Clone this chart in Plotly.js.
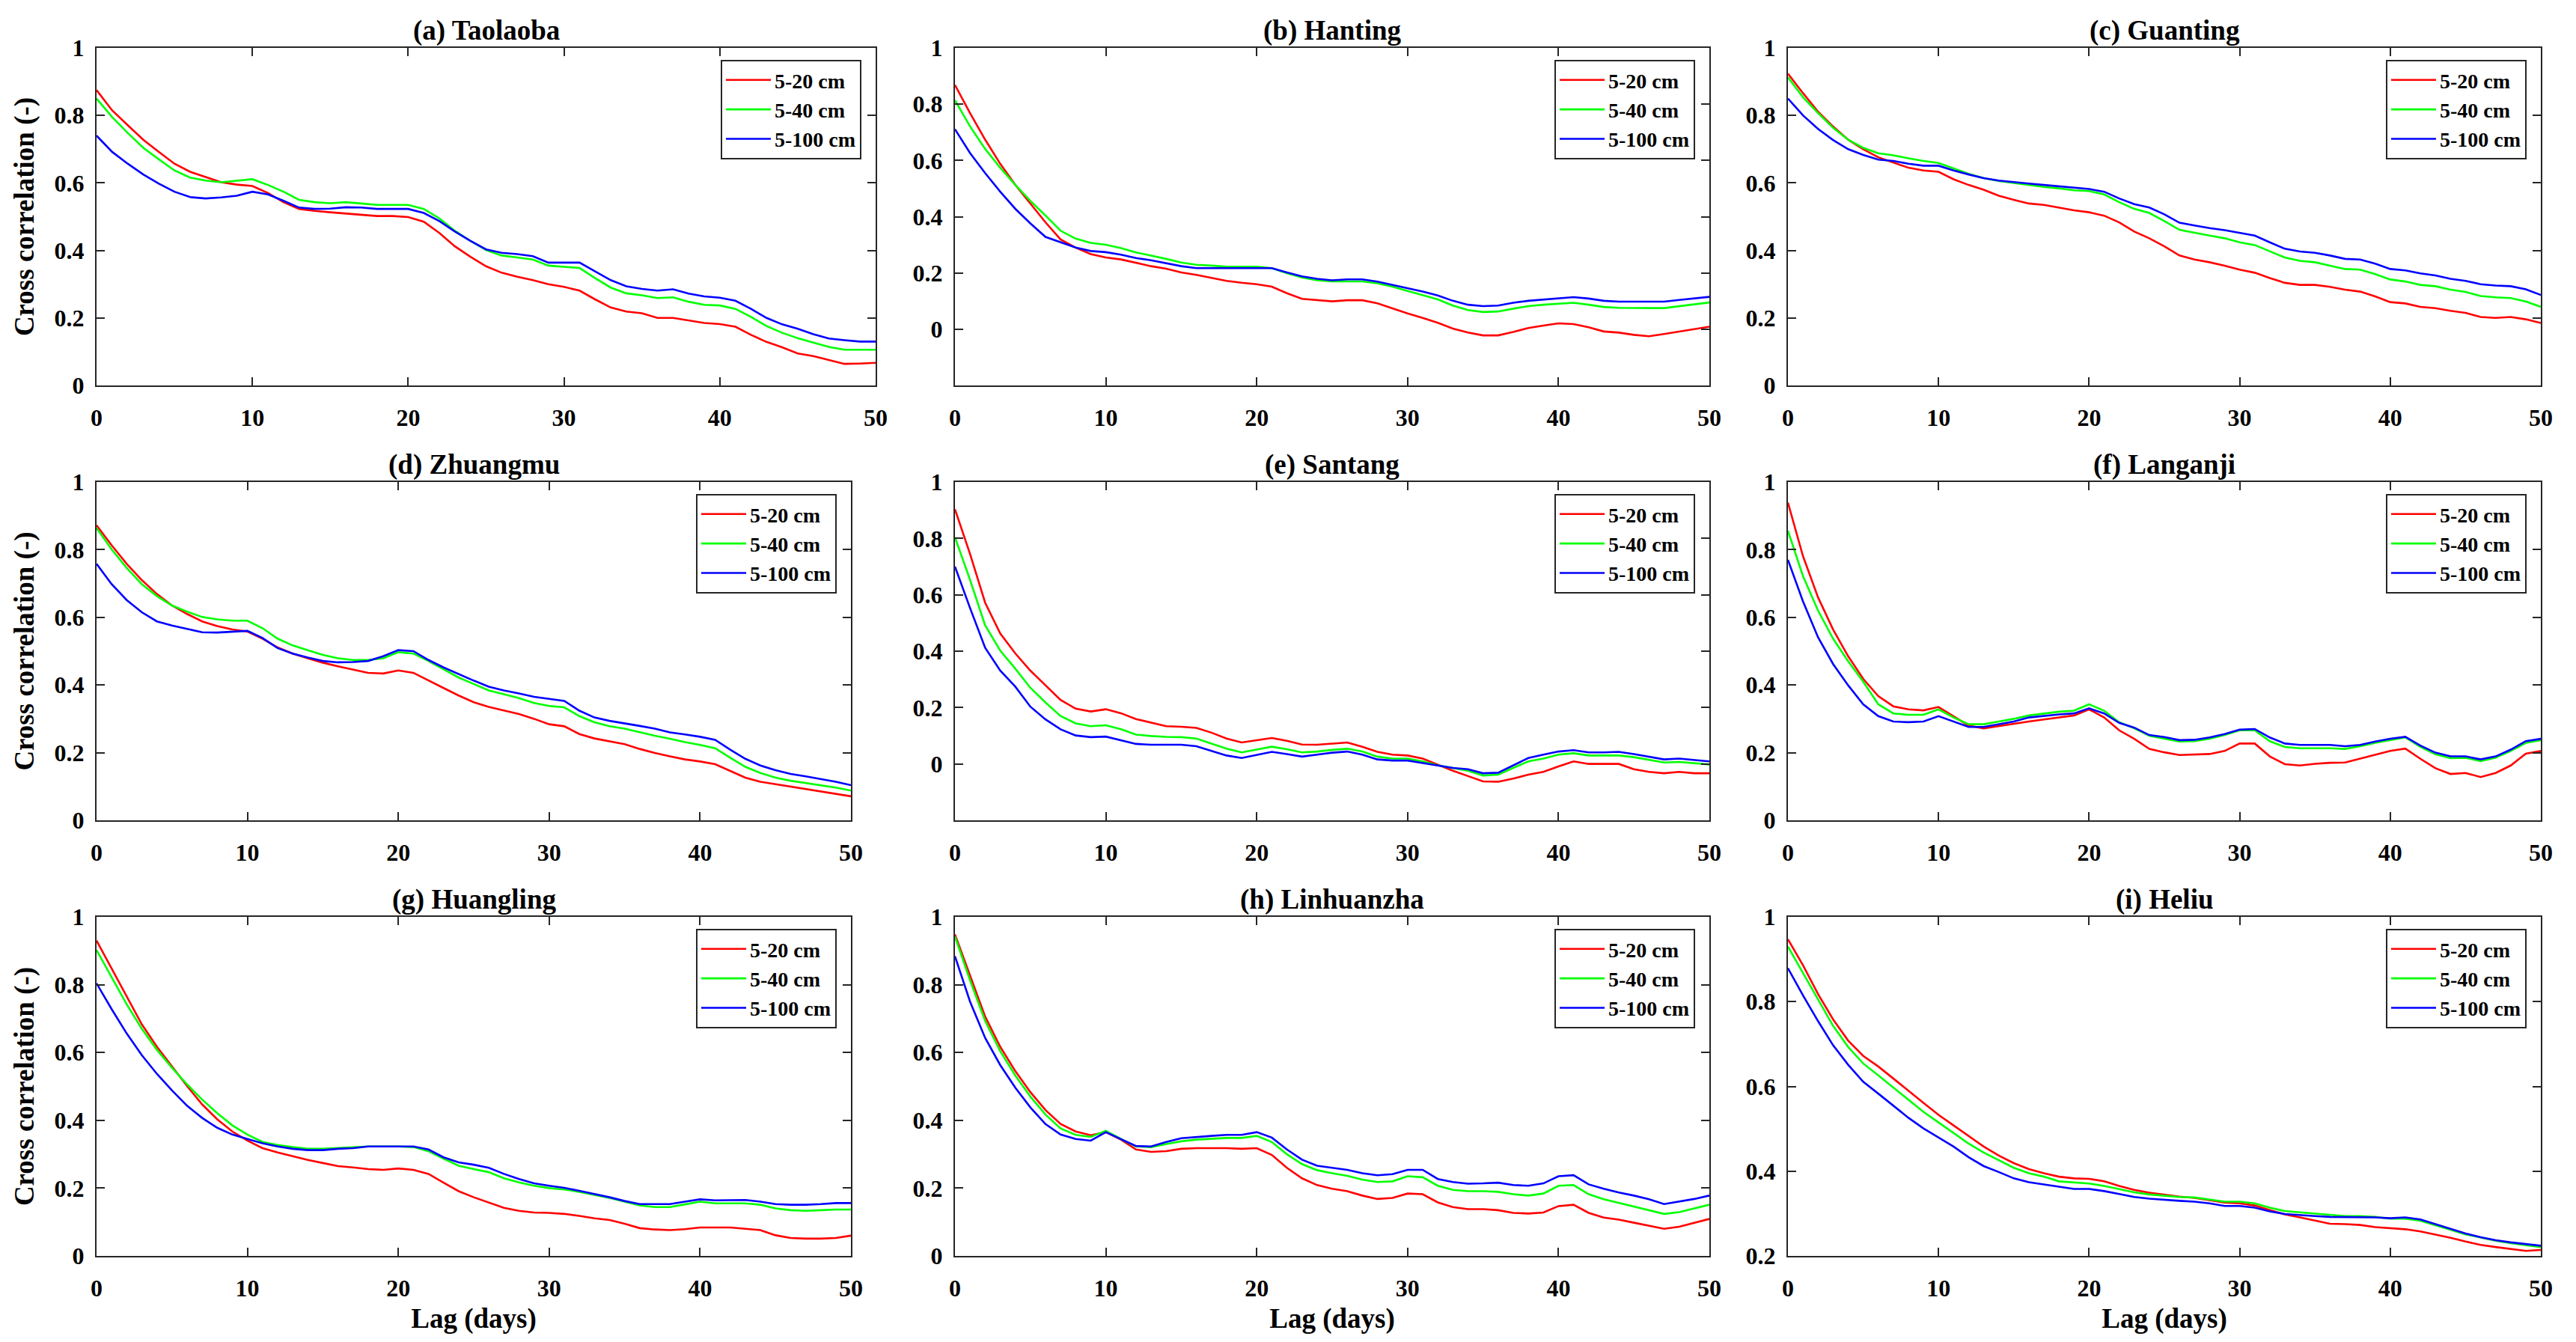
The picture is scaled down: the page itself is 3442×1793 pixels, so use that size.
<!DOCTYPE html>
<html>
<head>
<meta charset="utf-8">
<script src="https://cdn.plot.ly/plotly-3.0.1.min.js"></script>
<style>html,body{margin:0;padding:0;background:#fff;}#chart{width:3442px;height:1793px;}</style>
</head>
<body>
<div id="chart"></div>
<script>
// ---------- DATA ----------
const lags = Array.from({length: 51}, (_, i) => i);
const seriesNames = ['5-20 cm', '5-40 cm', '5-100 cm'];
const panelTitles = ['(a) Taolaoba', '(b) Hanting', '(c) Guanting', '(d) Zhuangmu', '(e) Santang', '(f) Langanji', '(g) Huangling', '(h) Linhuanzha', '(i) Heliu'];
const xTicks = [0, 10, 20, 30, 40, 50];

const taolaoba20 = [0.875,0.815,0.771,0.728,0.692,0.657,0.633,0.617,0.602,0.595,0.591,0.570,0.543,0.523,0.517,0.513,0.509,0.506,0.502,0.502,0.499,0.485,0.452,0.412,0.381,0.353,0.334,0.322,0.312,0.300,0.292,0.281,0.255,0.231,0.219,0.214,0.200,0.200,0.192,0.185,0.182,0.174,0.150,0.129,0.113,0.095,0.087,0.075,0.064,0.065,0.067];
const taolaoba40 = [0.850,0.795,0.748,0.704,0.670,0.637,0.616,0.607,0.602,0.606,0.611,0.594,0.574,0.550,0.543,0.540,0.543,0.539,0.535,0.535,0.535,0.523,0.495,0.458,0.428,0.401,0.385,0.379,0.373,0.355,0.352,0.348,0.318,0.290,0.273,0.267,0.259,0.261,0.248,0.239,0.237,0.227,0.203,0.176,0.156,0.140,0.127,0.114,0.106,0.106,0.106];
const taolaoba100 = [0.740,0.692,0.657,0.625,0.598,0.574,0.558,0.554,0.557,0.562,0.574,0.566,0.547,0.527,0.523,0.524,0.528,0.527,0.523,0.523,0.523,0.511,0.487,0.456,0.428,0.403,0.393,0.389,0.383,0.364,0.364,0.364,0.338,0.312,0.294,0.286,0.281,0.285,0.272,0.264,0.260,0.251,0.227,0.200,0.181,0.168,0.152,0.139,0.134,0.130,0.130];

const hanting20 = [0.868,0.768,0.674,0.588,0.513,0.447,0.380,0.319,0.290,0.267,0.255,0.248,0.236,0.224,0.215,0.202,0.193,0.182,0.172,0.165,0.160,0.151,0.128,0.108,0.103,0.099,0.103,0.103,0.092,0.073,0.056,0.040,0.023,0.002,-0.012,-0.022,-0.022,-0.010,0.004,0.013,0.021,0.018,0.007,-0.008,-0.012,-0.020,-0.025,-0.017,-0.008,0.000,0.009];
const hanting40 = [0.814,0.721,0.641,0.574,0.513,0.456,0.404,0.350,0.322,0.307,0.300,0.288,0.273,0.262,0.250,0.237,0.229,0.226,0.222,0.222,0.222,0.217,0.199,0.184,0.174,0.170,0.170,0.170,0.163,0.151,0.136,0.122,0.106,0.084,0.068,0.061,0.063,0.073,0.082,0.087,0.090,0.094,0.087,0.079,0.076,0.075,0.075,0.075,0.082,0.087,0.095];
const hanting100 = [0.711,0.626,0.555,0.489,0.428,0.376,0.328,0.309,0.290,0.278,0.274,0.265,0.253,0.245,0.234,0.224,0.217,0.217,0.215,0.217,0.217,0.217,0.202,0.188,0.179,0.174,0.177,0.177,0.169,0.158,0.146,0.134,0.120,0.101,0.087,0.082,0.084,0.094,0.101,0.106,0.109,0.114,0.109,0.101,0.098,0.098,0.098,0.098,0.104,0.109,0.115];

const guanting20 = [0.924,0.866,0.811,0.767,0.728,0.700,0.676,0.661,0.645,0.637,0.633,0.611,0.594,0.580,0.562,0.550,0.539,0.535,0.527,0.519,0.513,0.503,0.483,0.456,0.436,0.412,0.385,0.373,0.365,0.355,0.343,0.334,0.318,0.304,0.298,0.298,0.292,0.284,0.278,0.264,0.247,0.243,0.233,0.229,0.221,0.215,0.203,0.200,0.203,0.196,0.185];
const guanting40 = [0.913,0.854,0.807,0.763,0.728,0.704,0.688,0.682,0.673,0.665,0.659,0.643,0.627,0.614,0.606,0.600,0.594,0.588,0.584,0.578,0.576,0.566,0.543,0.523,0.511,0.487,0.461,0.452,0.444,0.436,0.424,0.416,0.397,0.379,0.369,0.365,0.355,0.345,0.343,0.330,0.314,0.308,0.298,0.294,0.284,0.277,0.265,0.261,0.259,0.249,0.233];
const guanting100 = [0.850,0.800,0.760,0.727,0.700,0.683,0.669,0.665,0.657,0.651,0.651,0.637,0.625,0.614,0.607,0.602,0.598,0.594,0.590,0.586,0.582,0.574,0.554,0.537,0.527,0.507,0.482,0.474,0.466,0.460,0.452,0.444,0.424,0.405,0.397,0.393,0.385,0.375,0.373,0.361,0.345,0.341,0.332,0.326,0.316,0.310,0.300,0.296,0.294,0.285,0.268];

const zhuangmu20 = [0.872,0.813,0.758,0.710,0.669,0.635,0.610,0.588,0.574,0.564,0.558,0.537,0.511,0.493,0.479,0.466,0.455,0.446,0.436,0.434,0.443,0.436,0.413,0.391,0.369,0.349,0.335,0.325,0.314,0.300,0.284,0.278,0.255,0.242,0.233,0.225,0.211,0.199,0.189,0.180,0.174,0.166,0.146,0.126,0.114,0.107,0.099,0.092,0.085,0.079,0.071];
const zhuangmu40 = [0.864,0.801,0.746,0.698,0.663,0.635,0.617,0.601,0.594,0.590,0.590,0.568,0.537,0.517,0.503,0.489,0.479,0.474,0.474,0.479,0.497,0.493,0.471,0.446,0.422,0.403,0.384,0.373,0.361,0.347,0.338,0.334,0.308,0.290,0.278,0.271,0.260,0.250,0.241,0.231,0.223,0.213,0.185,0.158,0.140,0.126,0.117,0.110,0.104,0.097,0.088];
const zhuangmu100 = [0.758,0.698,0.651,0.615,0.588,0.576,0.566,0.556,0.555,0.558,0.560,0.539,0.509,0.493,0.481,0.471,0.467,0.468,0.471,0.485,0.503,0.500,0.474,0.452,0.432,0.413,0.395,0.384,0.375,0.365,0.359,0.353,0.324,0.304,0.294,0.287,0.279,0.271,0.260,0.254,0.247,0.238,0.209,0.182,0.162,0.148,0.137,0.130,0.122,0.114,0.104];

const santang20 = [0.903,0.745,0.572,0.463,0.392,0.331,0.279,0.227,0.196,0.186,0.194,0.180,0.159,0.147,0.134,0.132,0.128,0.111,0.090,0.076,0.085,0.092,0.082,0.069,0.068,0.073,0.076,0.061,0.043,0.033,0.030,0.019,-0.003,-0.024,-0.043,-0.062,-0.063,-0.052,-0.038,-0.028,-0.009,0.009,0.000,0.000,0.000,-0.019,-0.028,-0.033,-0.028,-0.033,-0.033];
const santang40 = [0.804,0.653,0.492,0.402,0.338,0.270,0.218,0.170,0.144,0.134,0.137,0.123,0.104,0.099,0.096,0.095,0.090,0.073,0.054,0.041,0.052,0.061,0.052,0.041,0.044,0.050,0.054,0.044,0.026,0.019,0.019,0.009,-0.005,-0.014,-0.024,-0.041,-0.038,-0.014,0.009,0.019,0.033,0.038,0.030,0.030,0.030,0.024,0.014,0.005,0.007,0.002,-0.002];
const santang100 = [0.700,0.553,0.412,0.331,0.274,0.203,0.158,0.123,0.101,0.095,0.097,0.085,0.071,0.068,0.068,0.068,0.063,0.047,0.030,0.021,0.033,0.043,0.035,0.026,0.033,0.040,0.044,0.033,0.016,0.012,0.012,0.003,-0.007,-0.014,-0.019,-0.033,-0.031,-0.005,0.021,0.033,0.044,0.049,0.041,0.041,0.043,0.035,0.026,0.016,0.019,0.014,0.009];

const langanji20 = [0.939,0.781,0.659,0.564,0.485,0.418,0.367,0.337,0.328,0.325,0.335,0.308,0.280,0.272,0.279,0.286,0.292,0.298,0.304,0.310,0.328,0.304,0.266,0.241,0.211,0.201,0.193,0.195,0.196,0.205,0.227,0.227,0.189,0.166,0.162,0.167,0.170,0.171,0.182,0.193,0.205,0.212,0.182,0.154,0.137,0.140,0.128,0.140,0.162,0.197,0.205];
const langanji40 = [0.856,0.722,0.620,0.537,0.470,0.410,0.343,0.316,0.312,0.312,0.328,0.304,0.284,0.284,0.292,0.300,0.310,0.316,0.321,0.324,0.343,0.324,0.290,0.272,0.250,0.241,0.233,0.234,0.241,0.252,0.266,0.266,0.234,0.217,0.213,0.213,0.213,0.211,0.219,0.229,0.237,0.245,0.217,0.195,0.184,0.185,0.175,0.185,0.205,0.229,0.237];
const langanji100 = [0.770,0.647,0.541,0.462,0.399,0.343,0.308,0.292,0.290,0.292,0.308,0.292,0.276,0.276,0.284,0.292,0.304,0.309,0.313,0.316,0.331,0.316,0.288,0.274,0.252,0.246,0.237,0.238,0.245,0.255,0.268,0.270,0.245,0.227,0.223,0.223,0.223,0.219,0.223,0.233,0.241,0.247,0.221,0.200,0.189,0.189,0.180,0.189,0.209,0.234,0.241];

const huangling20 = [0.930,0.848,0.763,0.683,0.617,0.559,0.501,0.447,0.403,0.367,0.340,0.318,0.305,0.294,0.283,0.274,0.265,0.261,0.256,0.254,0.258,0.254,0.242,0.216,0.191,0.173,0.158,0.142,0.133,0.128,0.127,0.124,0.118,0.111,0.106,0.095,0.082,0.078,0.076,0.079,0.084,0.084,0.084,0.080,0.076,0.061,0.053,0.051,0.051,0.053,0.060];
const huangling40 = [0.902,0.822,0.742,0.670,0.608,0.555,0.506,0.461,0.421,0.385,0.358,0.336,0.327,0.321,0.316,0.316,0.318,0.321,0.323,0.323,0.323,0.321,0.309,0.287,0.266,0.256,0.247,0.229,0.217,0.207,0.200,0.196,0.189,0.180,0.171,0.160,0.149,0.144,0.144,0.152,0.160,0.155,0.155,0.155,0.151,0.140,0.135,0.133,0.135,0.137,0.137];
const huangling100 = [0.804,0.728,0.656,0.592,0.537,0.488,0.443,0.407,0.378,0.358,0.345,0.332,0.323,0.316,0.312,0.312,0.316,0.318,0.323,0.323,0.323,0.323,0.314,0.291,0.276,0.269,0.260,0.242,0.227,0.214,0.207,0.201,0.192,0.183,0.173,0.162,0.153,0.153,0.153,0.160,0.167,0.164,0.164,0.165,0.160,0.153,0.151,0.151,0.153,0.156,0.156];

const linhuanzha20 = [0.948,0.826,0.706,0.617,0.545,0.483,0.430,0.389,0.367,0.356,0.365,0.343,0.314,0.307,0.309,0.316,0.318,0.318,0.318,0.316,0.318,0.298,0.260,0.229,0.209,0.198,0.191,0.178,0.168,0.171,0.184,0.182,0.158,0.144,0.138,0.138,0.135,0.127,0.125,0.128,0.147,0.151,0.127,0.113,0.107,0.098,0.089,0.080,0.086,0.098,0.109];
const linhuanzha40 = [0.942,0.813,0.693,0.604,0.532,0.470,0.417,0.376,0.357,0.351,0.369,0.345,0.323,0.321,0.330,0.338,0.343,0.345,0.348,0.348,0.354,0.336,0.300,0.271,0.253,0.244,0.236,0.225,0.218,0.220,0.235,0.232,0.207,0.195,0.191,0.191,0.189,0.182,0.178,0.184,0.207,0.209,0.182,0.167,0.156,0.146,0.135,0.124,0.129,0.140,0.151];
const linhuanzha100 = [0.884,0.750,0.643,0.563,0.496,0.438,0.389,0.358,0.345,0.340,0.365,0.345,0.324,0.323,0.336,0.347,0.351,0.354,0.357,0.357,0.365,0.349,0.314,0.284,0.266,0.260,0.254,0.244,0.238,0.241,0.254,0.254,0.227,0.218,0.213,0.214,0.216,0.209,0.207,0.214,0.235,0.238,0.211,0.198,0.187,0.178,0.167,0.153,0.160,0.168,0.178];

const heliu20 = [0.947,0.886,0.818,0.758,0.708,0.672,0.647,0.619,0.590,0.561,0.533,0.508,0.483,0.458,0.437,0.419,0.405,0.395,0.387,0.383,0.382,0.376,0.365,0.356,0.349,0.344,0.340,0.337,0.332,0.326,0.324,0.319,0.308,0.298,0.291,0.283,0.276,0.275,0.273,0.268,0.266,0.263,0.258,0.251,0.243,0.234,0.226,0.221,0.216,0.212,0.214];
const heliu40 = [0.930,0.868,0.804,0.743,0.693,0.654,0.626,0.597,0.569,0.540,0.515,0.490,0.465,0.444,0.426,0.408,0.395,0.387,0.376,0.373,0.371,0.365,0.357,0.350,0.345,0.342,0.339,0.338,0.333,0.328,0.328,0.324,0.314,0.306,0.303,0.300,0.296,0.294,0.294,0.292,0.288,0.288,0.283,0.273,0.262,0.251,0.243,0.236,0.230,0.225,0.221];
const heliu100 = [0.879,0.815,0.754,0.697,0.651,0.611,0.583,0.554,0.526,0.501,0.480,0.458,0.433,0.412,0.398,0.383,0.374,0.369,0.363,0.358,0.358,0.353,0.346,0.339,0.335,0.332,0.330,0.328,0.324,0.318,0.318,0.314,0.305,0.299,0.296,0.294,0.292,0.292,0.292,0.291,0.289,0.291,0.286,0.275,0.263,0.253,0.244,0.237,0.232,0.228,0.224];

const panelSeries = [
  [taolaoba20, taolaoba40, taolaoba100],
  [hanting20, hanting40, hanting100],
  [guanting20, guanting40, guanting100],
  [zhuangmu20, zhuangmu40, zhuangmu100],
  [santang20, santang40, santang100],
  [langanji20, langanji40, langanji100],
  [huangling20, huangling40, huangling100],
  [linhuanzha20, linhuanzha40, linhuanzha100],
  [heliu20, heliu40, heliu100]
];
const yRanges = [[0,1],[-0.2,1],[0,1],[0,1],[-0.2,1],[0,1],[0,1],[0,1],[0.2,1]];
const yTicksStd = [0, 0.2, 0.4, 0.6, 0.8, 1];
const yTicksHeliu = [0.2, 0.4, 0.6, 0.8, 1];

// ---------- LAYOUT (pixel geometry) ----------
const W = 3442, H = 1793;
const colors = ['#ff0000', '#00ff00', '#0000ff'];
const boxes = [ // [left, right, top, bottom] in px
  [129, 1170, 64, 515], [1276, 2284, 64, 515], [2389, 3395, 64, 515],
  [129, 1137, 644, 1096], [1276, 2284, 644, 1096], [2389, 3395, 644, 1096],
  [129, 1137, 1225, 1678], [1276, 2284, 1225, 1678], [2389, 3395, 1225, 1678]
];
const FONT = 'Liberation Serif, Times New Roman, serif';
const axColor = '#262626';

const traces = [];
const layout = {
  width: W, height: H,
  margin: {l: 0, r: 0, t: 0, b: 0},
  paper_bgcolor: '#ffffff', plot_bgcolor: '#ffffff',
  showlegend: true,
  annotations: []
};

boxes.forEach((b, k) => {
  const n = k + 1;
  const xa = 'xaxis' + (n === 1 ? '' : n), ya = 'yaxis' + (n === 1 ? '' : n);
  const xr = 'x' + (n === 1 ? '' : n), yr = 'y' + (n === 1 ? '' : n);
  const lg = 'legend' + (n === 1 ? '' : n);
  const row = Math.floor(k / 3), col = k % 3;

  panelSeries[k].forEach((vals, s) => {
    traces.push({
      x: lags, y: vals, type: 'scatter', mode: 'lines',
      name: seriesNames[s], xaxis: xr, yaxis: yr, legend: lg,
      line: {color: colors[s], width: 2.6}
    });
  });

  const common = {
    showline: true, linecolor: axColor, linewidth: 2, mirror: 'ticks',
    ticks: 'inside', ticklen: 11, tickwidth: 2, tickcolor: axColor,
    showgrid: false, zeroline: false, automargin: false,
    tickfont: {family: FONT, size: 32, weight: 'bold', color: '#000'}
  };
  layout[xa] = Object.assign({}, common, {
    domain: [b[0] / W, b[1] / W], anchor: yr, range: [0, 50],
    tickmode: 'array', tickvals: xTicks, ticklabelstandoff: 14
  });
  const yt = (k === 8) ? yTicksHeliu : yTicksStd;
  layout[ya] = Object.assign({}, common, {
    domain: [1 - b[3] / H, 1 - b[2] / H], anchor: xr, range: yRanges[k],
    tickmode: 'array', tickvals: yt, ticktext: yt.map(v => String(v)), ticklabelstandoff: 8
  });
  if (col === 0) {
    layout[ya].title = {text: 'Cross correlation (-)', font: {family: FONT, size: 37, weight: 'bold', color: '#000'}, standoff: 16};
  }
  if (row === 2) {
    layout[xa].title = {text: 'Lag (days)', font: {family: FONT, size: 37, weight: 'bold', color: '#000'}, standoff: 10};
  }

  layout[lg] = {
    x: (b[1] - 19) / W, y: 1 - (b[2] + 16) / H, xanchor: 'right', yanchor: 'top',
    xref: 'paper', yref: 'paper',
    bgcolor: '#ffffff', bordercolor: axColor, borderwidth: 2,
    font: {family: FONT, size: 28, weight: 'bold', color: '#000'},
    itemwidth: 60, tracegroupgap: 0
  };

  layout.annotations.push({
    text: panelTitles[k], xref: 'paper', yref: 'paper',
    x: (b[0] + b[1]) / 2 / W, y: 1 - b[2] / H, xanchor: 'center', yanchor: 'bottom',
    showarrow: false, yshift: 0,
    font: {family: FONT, size: 37, weight: 'bold', color: '#000'}
  });
});

Plotly.newPlot('chart', traces, layout, {displayModeBar: false, staticPlot: true});
</script>
</body>
</html>
